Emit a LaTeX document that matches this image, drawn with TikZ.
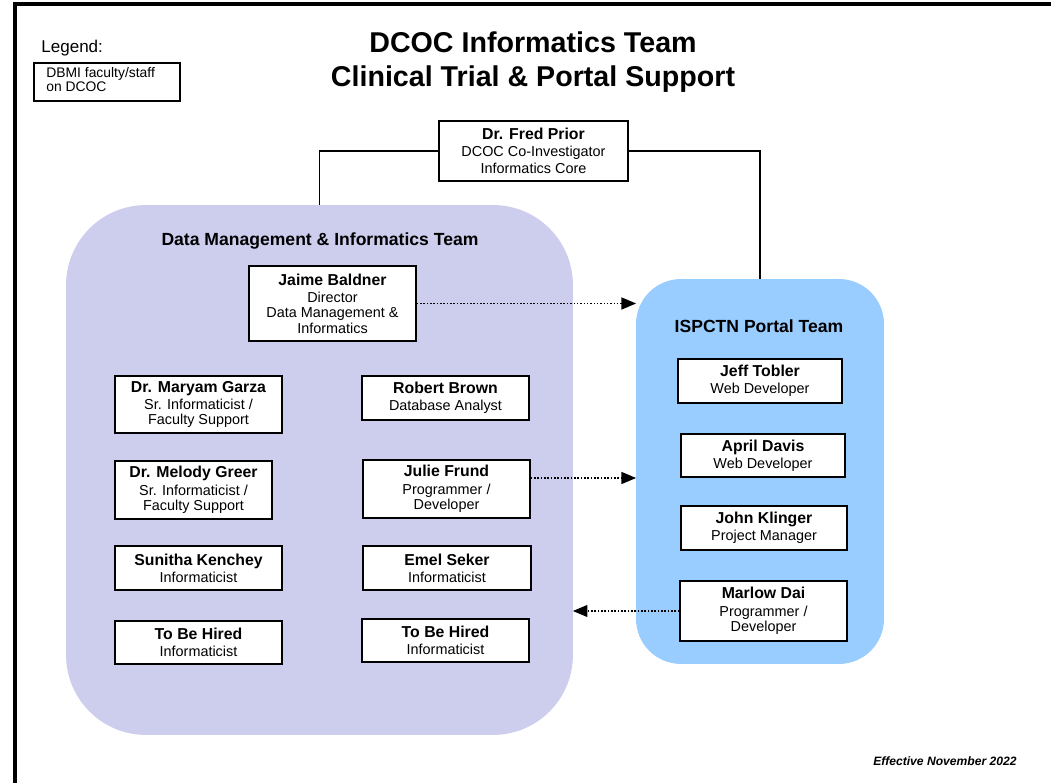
\documentclass[tikz,border=0pt]{standalone}
\usepackage{fontspec}
\setmainfont{Liberation Sans}
\usetikzlibrary{arrows}
\definecolor{dmiPurple}{RGB}{205,205,238}
\definecolor{portalBlue}{RGB}{153,204,255}
\newcommand{\who}[1]{{\fontsize{9}{10}\selectfont\bfseries #1}}

\begin{document}
\begin{tikzpicture}[x=0.02cm,y=-0.02cm,
	staff_node/.style={draw,fill=white,line width=0.7pt,align=center,inner sep=1pt,font=\fontsize{8.2}{8.8}\selectfont},
	team_node/.style={inner sep=0pt,outer sep=0pt},
	team_title/.style={font=\fontsize{10}{12}\selectfont\bfseries},
	link/.style={line width=0.6pt},
	dotted_link/.style={line width=0.9pt,densely dotted,-triangle 45}]

		\useasboundingbox (0,0) rectangle (1051,783);
		\draw[line width=2pt] (15,783) -- (15,4) -- (1051,4);

		% title and legend
		\node[align=center,font=\fontsize{16.3}{19.5}\selectfont\bfseries] (title) at (533,62) {DCOC Informatics Team\\Clinical Trial \& Portal Support};
		\node[anchor=base west,font=\fontsize{9.7}{11}\selectfont,inner sep=0pt] (legend) at (41,53) {Legend:};
		\draw[line width=0.7pt] (34,63) rectangle (180,101);
		\node[anchor=north west,align=left,inner sep=0pt,font=\fontsize{7.9}{6.2}\selectfont] (legend_text) at (46,67) {DBMI faculty/staff\\on DCOC};
		\node[font=\fontsize{6.9}{8}\selectfont\bfseries\itshape] (effective) at (945,761) {Effective November 2022};

		% team areas
		\node[team_node,fill=dmiPurple,rounded corners=1.6cm,minimum width=10.14cm,minimum height=10.6cm] (dmi) at (319.5,470) {};
		\node[team_node,fill=portalBlue,rounded corners=0.9cm,minimum width=4.96cm,minimum height=7.7cm] (portal) at (760,471.5) {};
		\node[team_title] (dmi_title) at (320,241) {Data Management \& Informatics Team};
		\node[team_title] (portal_title) at (759,326) {ISPCTN Portal Team};

		% people
		\node[staff_node,minimum width=3.78cm,minimum height=1.2cm] (prior) at (533.5,151) {\who{Dr. Fred Prior}\\[1pt]DCOC Co-Investigator\\[1pt]Informatics Core};
		\node[staff_node,minimum width=3.34cm,minimum height=1.5cm] (baldner) at (332.5,303.5) {\who{Jaime Baldner}\\[1pt]Director\\Data Management \&\\Informatics};
		\node[staff_node,minimum width=3.34cm,minimum height=1.14cm] (garza) at (198.5,404.5) {\who{Dr. Maryam Garza}\\[1pt]Sr. Informaticist /\\Faculty Support};
		\node[staff_node,minimum width=3.14cm,minimum height=1.16cm] (greer) at (193.5,490) {\who{Dr. Melody Greer}\\[1pt]Sr. Informaticist /\\Faculty Support};
		\node[staff_node,minimum width=3.34cm,minimum height=0.88cm] (kenchey) at (198.5,568) {\who{Sunitha Kenchey}\\[1pt]Informaticist};
		\node[staff_node,minimum width=3.34cm,minimum height=0.86cm] (hired_a) at (198.5,642.5) {\who{To Be Hired}\\[1pt]Informaticist};
		\node[staff_node,minimum width=3.34cm,minimum height=0.88cm] (brown) at (445.5,398) {\who{Robert Brown}\\[1pt]Database Analyst};
		\node[staff_node,minimum width=3.34cm,minimum height=1.16cm] (frund) at (446.5,489) {\who{Julie Frund}\\[1pt]Programmer /\\Developer};
		\node[staff_node,minimum width=3.36cm,minimum height=0.88cm] (seker) at (447,568) {\who{Emel Seker}\\[1pt]Informaticist};
		\node[staff_node,minimum width=3.34cm,minimum height=0.86cm] (hired_b) at (445.5,640.5) {\who{To Be Hired}\\[1pt]Informaticist};
		\node[staff_node,minimum width=3.28cm,minimum height=0.88cm] (tobler) at (760,381) {\who{Jeff Tobler}\\[1pt]Web Developer};
		\node[staff_node,minimum width=3.28cm,minimum height=0.86cm] (davis) at (763,455.5) {\who{April Davis}\\[1pt]Web Developer};
		\node[staff_node,minimum width=3.32cm,minimum height=0.88cm] (klinger) at (764,528) {\who{John Klinger}\\[1pt]Project Manager};
		\node[staff_node,minimum width=3.34cm,minimum height=1.2cm] (dai) at (763.5,611) {\who{Marlow Dai}\\[1pt]Programmer /\\Developer};

		\draw[link] (prior.west) -| (dmi.north);
		\draw[link] (prior.east) -| (portal.north);
		\draw[dotted_link] (baldner.east) -- (baldner.east -| portal.west);
		\draw[dotted_link] ([yshift=0.22cm]frund.east) -- ([yshift=0.22cm]frund.east -| portal.west);
		\draw[dotted_link] (dai.west) -- (dai.west -| dmi.east);
		\end{tikzpicture}
\end{document}
